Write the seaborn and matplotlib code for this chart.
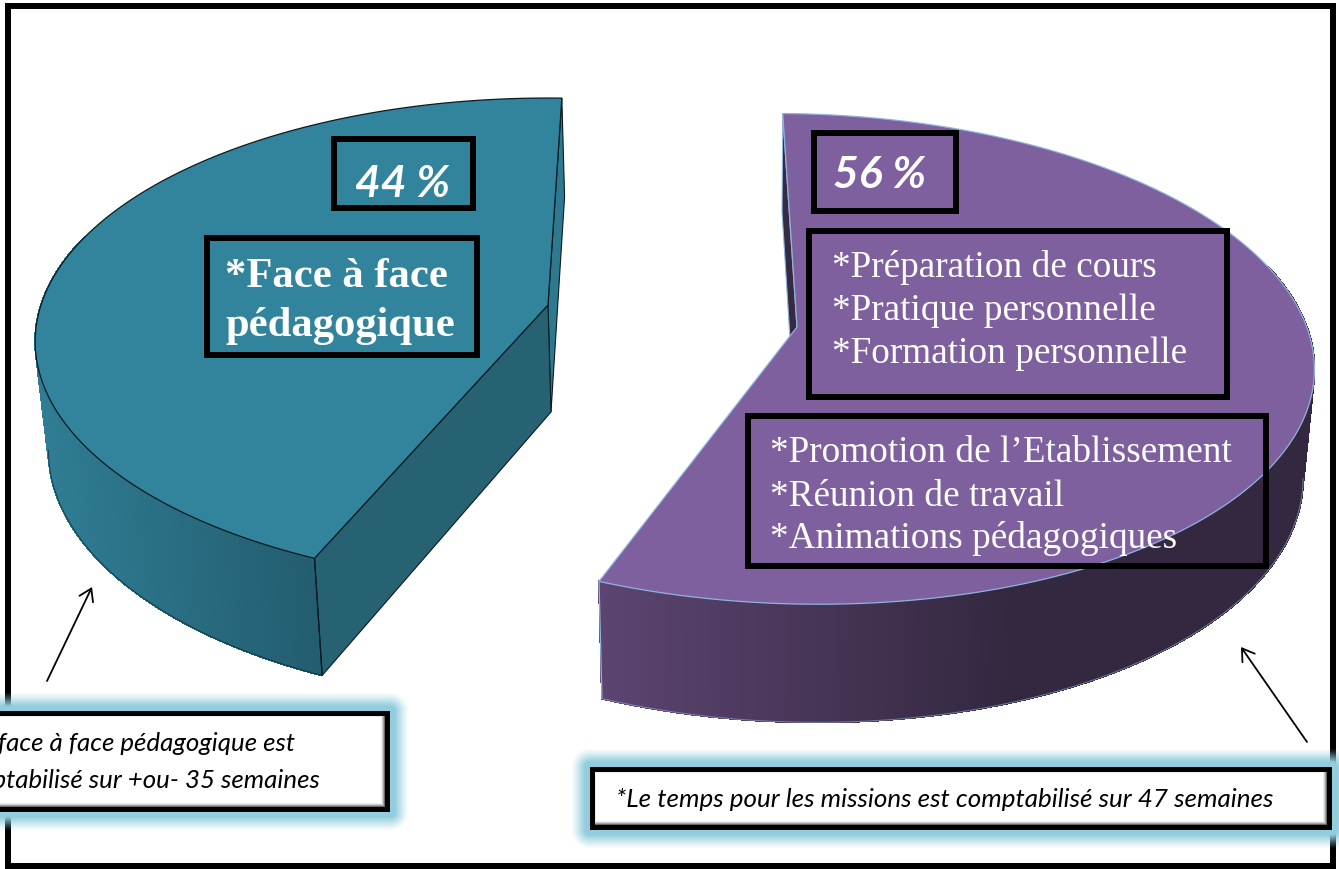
import numpy as np
import matplotlib
matplotlib.use("Agg")
import matplotlib.pyplot as plt
from matplotlib.collections import PolyCollection
from matplotlib.patches import Rectangle, Polygon
import seaborn as sns

# ---- data ----
slice_names = ["Face à face pédagogique", "Missions"]
shares = [44, 56]
share_labels = ["44 %", "56 %"]
teal_lines = ["*Face à face", "pédagogique"]
prep_lines = ["*Préparation de cours", "*Pratique personnelle", "*Formation personnelle"]
promo_lines = ["*Promotion de l’Etablissement", "*Réunion de travail", "*Animations pédagogiques"]
note_left = ["*Le face à face pédagogique est", "comptabilisé sur +ou- 35 semaines"]
note_right = "*Le temps pour les missions est comptabilisé sur 47 semaines"

# ---- style ----
W, H = 1339, 870
PX = 72 / 100
sns.set_theme(style="white")
fig = plt.figure(figsize=(W / 100, H / 100), dpi=100, facecolor="white")
ax = fig.add_axes([0, 0, 1, 1])
ax.set_axis_off()


def project(t_deg, g):
    t = np.radians(t_deg)
    u, v = np.sin(t), -np.cos(t)
    s = 1 / (1 - g["p"] * v)
    dx = g["rx"] * u * s
    dy = g["ry"] * v * s + g["tilt"] * g["rx"] * u * s
    return dx, dy, v


def top_pt(dx, dy, g):
    return g["cx"] + dx, g["cy"] + dy


def low_pt(dx, dy, g):
    return g["cx"] + g["shift"] + 0.98 * dx, g["cy"] + g["depth"] + 1.04 * dy


def draw_slice(share, g):
    sweep = share / 100 * 360 * g["sign"]
    ts = np.linspace(g["t0"], g["t0"] + sweep, 900)
    dx, dy, v = project(ts, g)
    tx, ty = top_pt(dx, dy, g)
    bx, by = low_pt(dx, dy, g)
    apex_top = (g["cx"], g["cy"])
    apex_low = low_pt(0.0, 0.0, g)

    # curved outer side, shaded along x (only its front part can be seen)
    pal = sns.blend_palette(g["side"], 256)
    quads, cols = [], []
    xmin, xmax = g["grad"]
    for i in range(len(ts) - 1):
        if v[i] < -0.3:
            continue
        quads.append([(tx[i], ty[i]), (tx[i + 1], ty[i + 1]), (bx[i + 1], by[i + 1]), (bx[i], by[i])])
        f = np.clip((0.5 * (tx[i] + tx[i + 1]) - xmin) / (xmax - xmin), 0, 1)
        cols.append(pal[int(f * 255)])
    ax.add_collection(PolyCollection(quads, facecolors=cols, edgecolors=cols, linewidths=0.8,
                                     antialiaseds=False, zorder=2.5))
    front = v > g["p"]
    ax.plot(bx[front], by[front], color=g["edge"], lw=0.7, alpha=0.6, zorder=3)
    # inner face at the start of the sweep (thin sliver)
    ax.add_patch(Polygon([(tx[0], ty[0]), (bx[0], by[0]), apex_low, apex_top],
                         closed=True, fc=g["sliver"], ec=g["edge"], lw=0.8, zorder=2.7))
    # cut face at the end of the sweep
    if g["cut"] is not None:
        ax.add_patch(Polygon([apex_top, (tx[-1], ty[-1]), (bx[-1], by[-1]), apex_low],
                             closed=True, fc=g["cut"], ec=g["edge"], lw=0.8, zorder=3))
    ax.plot([tx[-1], bx[-1]], [ty[-1], by[-1]], color=g["edge"], lw=0.9, zorder=3.5)
    # flat top
    ax.add_patch(Polygon(np.r_[[apex_top], np.c_[tx, ty]], closed=True,
                         fc=g["top"], ec=g["edge"], lw=0.9, zorder=4))


geom = [
    dict(cx=548, cy=306, rx=507, ry=238, p=0.15, depth=107, t0=1.8, sign=-1, tilt=0.0, shift=3,
         top="#31849b", sliver="#2d7a90", cut="#276273", edge="#0b1a20",
         side=["#2f7d94", "#235c6e"], grad=(40, 320)),
    dict(cx=797, cy=328, rx=513, ry=241, p=0.13, depth=107, t0=-1.8, sign=1, tilt=0.02, shift=-1,
         top="#7f609e", sliver="#352a42", cut=None, edge="#8fb4dc",
         side=["#5c4470", "#332840"], grad=(600, 1010)),
]

# ---- outer frame ----
ax.add_patch(Rectangle((8, 7), 1325, 860, fc="white", ec="black", lw=6 * PX, zorder=1))

for share, g in zip(shares, geom):
    draw_slice(share, g)


# ---- labelled boxes on the slices ----
def box(x0, y0, x1, y1):
    ax.add_patch(Rectangle((x0 + 3, y0 + 3), x1 - x0 - 6, y1 - y0 - 6,
                           fc="none", ec="black", lw=6 * PX, joinstyle="miter", zorder=6))


serif = "Liberation Serif"
box(331, 137, 476, 212)
ax.text(403, 184, share_labels[0], family="Lato", weight="bold", style="italic", color="white",
        fontsize=32, ha="center", va="center", zorder=7)
box(204, 236, 480, 359)
for y, s in zip([277, 326], teal_lines):
    ax.text(225, y, s, family=serif, weight="bold", color="white", fontsize=30.7,
            ha="left", va="center", zorder=7)
box(811, 131, 959, 215)
ax.text(880, 175, share_labels[1], family="Lato", weight="bold", style="italic", color="white",
        fontsize=32, ha="center", va="center", zorder=7)
box(806, 229, 1230, 401)
for y, s in zip([268, 311, 354], prep_lines):
    ax.text(832, y, s, family=serif, color="white", fontsize=26.8, ha="left", va="center", zorder=7)
box(745, 414, 1269, 570)
for y, s in zip([453, 497, 539], promo_lines):
    ax.text(770, y, s, family=serif, color="white", fontsize=26.8, ha="left", va="center", zorder=7)


# ---- notes with glow ----
def glow_box(x0, y0, x1, y1):
    m = 24
    gx0, gx1 = x0 - m, x1 + m
    gy0, gy1 = y0 - m, y1 + m
    xs = np.arange(gx0, gx1) + 0.5
    ys = np.arange(gy0, gy1) + 0.5
    X, Y = np.meshgrid(xs, ys)
    ddx = np.maximum(np.maximum(x0 - X, X - x1), 0)
    ddy = np.maximum(np.maximum(y0 - Y, Y - y1), 0)
    d = np.hypot(ddx, ddy)
    a = np.clip((19 - d) / 14, 0, 1) ** 1.2
    rgba = np.zeros(d.shape + (4,))
    rgba[..., :3] = matplotlib.colors.to_rgb("#92cddc")
    rgba[..., 3] = a
    ax.imshow(rgba, extent=(gx0, gx1, gy1, gy0), aspect="auto", zorder=8, interpolation="bilinear")
    ax.add_patch(Rectangle((x0, y0), x1 - x0, y1 - y0, fc="black", ec="none", zorder=8.1))
    ix0, iy0, ix1, iy1 = x0 + 5, y0 + 5, x1 - 5, y1 - 5
    shades = ["#6a6a6a", "#a0a0a0", "#d0d0d0", "#ececec"]
    for k, c in enumerate(shades):
        ax.add_patch(Rectangle((ix0, iy0), ix1 - ix0 - k, iy1 - iy0 - k,
                               fc=c, ec="none", zorder=8.2 + k * 0.01))
    ax.add_patch(Rectangle((ix0 + 1, iy0 + 1), ix1 - ix0 - 5, iy1 - iy0 - 5, fc="white", ec="none", zorder=8.3))


glow_box(-30, 712, 390, 813)
glow_box(590, 768, 1332, 831)
note_font = dict(family="Lato", style="italic", color="black", zorder=9)
ax.text(295, 744, note_left[0], fontsize=18.6, ha="right", va="center", **note_font)
ax.text(320, 781, note_left[1], fontsize=18.6, ha="right", va="center", **note_font)
ax.text(616, 800, note_right, fontsize=18.7, ha="left", va="center", **note_font)

# ---- arrows ----
arrow = dict(arrowstyle="->,head_length=0.7,head_width=0.45", color="black", lw=1.3, shrinkA=0, shrinkB=0)
ax.annotate("", xy=(92, 588), xytext=(47, 682), arrowprops=arrow, zorder=7)
ax.annotate("", xy=(1241, 648), xytext=(1307, 743), arrowprops=arrow, zorder=7)

ax.set_xlim(0, W)
ax.set_ylim(H, 0)
fig.savefig("out.png", dpi=100, facecolor="white")
